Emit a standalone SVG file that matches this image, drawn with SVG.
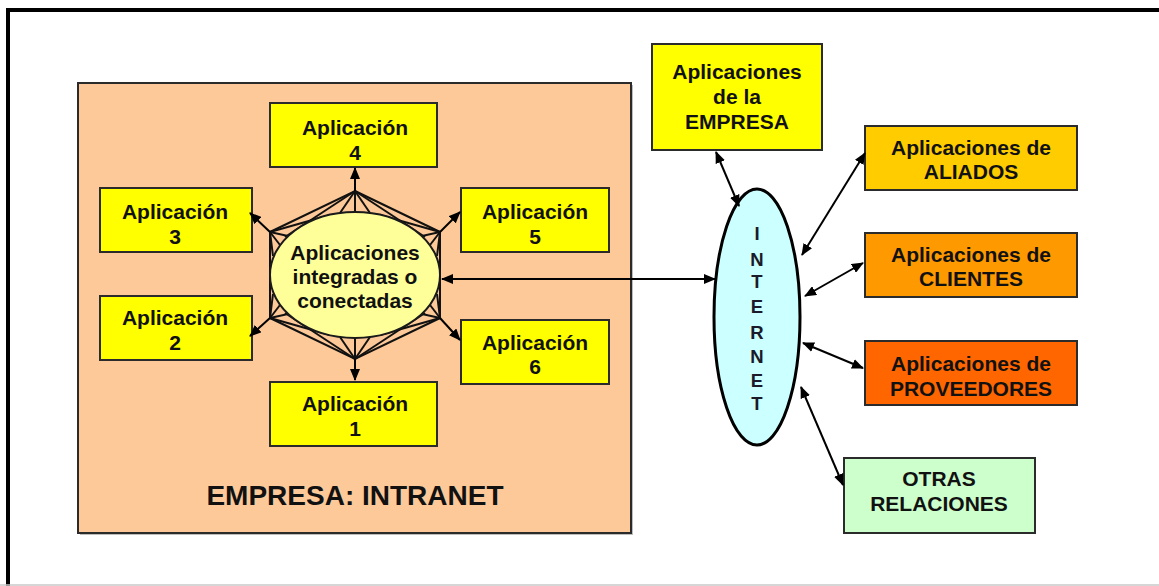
<svg xmlns="http://www.w3.org/2000/svg" width="1159" height="586" viewBox="0 0 1159 586">
  <defs>
    <marker id="head" viewBox="0 0 12 10" refX="11" refY="5" markerWidth="12" markerHeight="10" markerUnits="userSpaceOnUse" orient="auto-start-reverse">
      <path d="M0,0 L12,5 L0,10 Z" fill="#000"/>
    </marker>
  </defs>
  <style>
    .frame { stroke: #000; stroke-width: 4; fill: none; }
    .box { stroke: #2b2b2b; stroke-width: 2; }
    .app { fill: #ffff00; }
    .t { font-family: "Liberation Sans", Arial, sans-serif; font-weight: bold; font-size: 21px; fill: #111; text-anchor: middle; }
    .big { font-size: 28px; }
    .net { font-size: 18.5px; fill: #1a1a2a; }
    .link { stroke: #000; stroke-width: 2; fill: none; }
    .one { marker-end: url(#head); }
    .two { marker-start: url(#head); marker-end: url(#head); }
    .hex { stroke: #111; stroke-width: 2; fill: none; }
  </style>

  <rect width="1159" height="586" fill="#fff"/>
  <!-- outer frame: top and left rules, thin grey base line -->
  <line class="frame" x1="6" y1="10" x2="1159" y2="10"/>
  <line class="frame" x1="8" y1="8" x2="8" y2="586"/>
  <line x1="0" y1="585" x2="1159" y2="585" stroke="#c8c8c8" stroke-width="1.5"/>

  <!-- intranet container -->
  <g id="intranet">
    <rect x="80" y="85" width="553" height="450" fill="#bdbdbd"/>
    <rect x="78" y="83" width="553" height="450" fill="#fec998" class="box"/>
    <text class="t big" x="355" y="505">EMPRESA: INTRANET</text>
  </g>

  <!-- hub: hexagon with fan lines to the ellipse -->
  <g id="hub">
    <polygon class="hex" points="355,191 440,232 440,318 355,359 270,318 270,232"/>
    <g class="hex">
      <!-- top -->
      <line x1="355" y1="191" x2="340" y2="213"/>
      <line x1="355" y1="191" x2="355" y2="212"/>
      <line x1="355" y1="191" x2="370" y2="213"/>
      <line x1="355" y1="191" x2="285" y2="237"/>
      <line x1="355" y1="191" x2="425" y2="237"/>
      <!-- bottom -->
      <line x1="355" y1="359" x2="340" y2="337"/>
      <line x1="355" y1="359" x2="355" y2="338"/>
      <line x1="355" y1="359" x2="370" y2="337"/>
      <line x1="355" y1="359" x2="285" y2="313"/>
      <line x1="355" y1="359" x2="425" y2="313"/>
      <!-- upper left -->
      <line x1="270" y1="232" x2="288" y2="236"/>
      <line x1="270" y1="232" x2="280" y2="245"/>
      <line x1="270" y1="232" x2="273" y2="256"/>
      <line x1="270" y1="232" x2="330" y2="215"/>
      <!-- upper right -->
      <line x1="440" y1="232" x2="422" y2="236"/>
      <line x1="440" y1="232" x2="430" y2="245"/>
      <line x1="440" y1="232" x2="437" y2="256"/>
      <line x1="440" y1="232" x2="380" y2="215"/>
      <!-- lower left -->
      <line x1="270" y1="318" x2="288" y2="314"/>
      <line x1="270" y1="318" x2="280" y2="305"/>
      <line x1="270" y1="318" x2="273" y2="294"/>
      <line x1="270" y1="318" x2="330" y2="335"/>
      <!-- lower right -->
      <line x1="440" y1="318" x2="422" y2="314"/>
      <line x1="440" y1="318" x2="430" y2="305"/>
      <line x1="440" y1="318" x2="437" y2="294"/>
      <line x1="440" y1="318" x2="380" y2="335"/>
    </g>
    <ellipse cx="355" cy="275" rx="85" ry="63" fill="#ffff99" stroke="#1a1a1a" stroke-width="2"/>
    <text class="t" x="355" y="260">Aplicaciones</text>
    <text class="t" x="355" y="284">integradas o</text>
    <text class="t" x="355" y="308">conectadas</text>
  </g>

  <g id="app4">
    <rect class="box app" x="270" y="103" width="167" height="64"/>
    <text class="t" x="355" y="135">Aplicación</text>
    <text class="t" x="355" y="160">4</text>
  </g>
  <g id="app3">
    <rect class="box app" x="100" y="188" width="152" height="64"/>
    <text class="t" x="175" y="219">Aplicación</text>
    <text class="t" x="175" y="244">3</text>
  </g>
  <g id="app5">
    <rect class="box app" x="461" y="188" width="148" height="64"/>
    <text class="t" x="535" y="219">Aplicación</text>
    <text class="t" x="535" y="244">5</text>
  </g>
  <g id="app2">
    <rect class="box app" x="100" y="296" width="152" height="64"/>
    <text class="t" x="175" y="325">Aplicación</text>
    <text class="t" x="175" y="350">2</text>
  </g>
  <g id="app6">
    <rect class="box app" x="461" y="320" width="148" height="64"/>
    <text class="t" x="535" y="350">Aplicación</text>
    <text class="t" x="535" y="374">6</text>
  </g>
  <g id="app1">
    <rect class="box app" x="270" y="382" width="167" height="64"/>
    <text class="t" x="355" y="411">Aplicación</text>
    <text class="t" x="355" y="436">1</text>
  </g>

  <g id="internet">
    <ellipse cx="757" cy="317" rx="43" ry="128" fill="#ccffff" stroke="#000" stroke-width="3"/>
    <text class="t net" x="757" y="240">I</text>
    <text class="t net" x="757" y="265.5">N</text>
    <text class="t net" x="757" y="288">T</text>
    <text class="t net" x="757" y="312.5">E</text>
    <text class="t net" x="757" y="338.5">R</text>
    <text class="t net" x="757" y="363">N</text>
    <text class="t net" x="757" y="386.5">E</text>
    <text class="t net" x="757" y="410">T</text>
  </g>

  <g id="empresa">
    <rect class="box app" x="652" y="44" width="170" height="106"/>
    <text class="t" x="737" y="79">Aplicaciones</text>
    <text class="t" x="737" y="104">de la</text>
    <text class="t" x="737" y="129">EMPRESA</text>
  </g>
  <g id="aliados">
    <rect class="box" x="865" y="126" width="212" height="64" fill="#ffcc00"/>
    <text class="t" x="971" y="155">Aplicaciones de</text>
    <text class="t" x="971" y="179">ALIADOS</text>
  </g>
  <g id="clientes">
    <rect class="box" x="865" y="233" width="212" height="64" fill="#ff9900"/>
    <text class="t" x="971" y="262">Aplicaciones de</text>
    <text class="t" x="971" y="286">CLIENTES</text>
  </g>
  <g id="proveedores">
    <rect class="box" x="865" y="341" width="212" height="64" fill="#ff6600"/>
    <text class="t" x="971" y="371">Aplicaciones de</text>
    <text class="t" x="971" y="396">PROVEEDORES</text>
  </g>
  <g id="otras">
    <rect class="box" x="844" y="458" width="191" height="75" fill="#ccffcc"/>
    <text class="t" x="939" y="486">OTRAS</text>
    <text class="t" x="939" y="511">RELACIONES</text>
  </g>

  <g id="connectors">
    <line class="link one" x1="355" y1="191" x2="355" y2="168"/>
    <line class="link one" x1="270" y1="232" x2="250" y2="213"/>
    <line class="link one" x1="440" y1="232" x2="460" y2="212"/>
    <line class="link one" x1="270" y1="318" x2="250" y2="336"/>
    <line class="link one" x1="440" y1="318" x2="460" y2="340"/>
    <line class="link one" x1="355" y1="359" x2="355" y2="380"/>
    <line class="link two" x1="442" y1="279" x2="715" y2="279"/>
    <line class="link two" x1="716" y1="152" x2="739" y2="206"/>
    <line class="link two" x1="865" y1="153" x2="802" y2="255"/>
    <line class="link two" x1="863" y1="263" x2="805" y2="296"/>
    <line class="link two" x1="803" y1="343" x2="863" y2="368"/>
    <line class="link two" x1="801" y1="387" x2="843" y2="485"/>
  </g>
</svg>
